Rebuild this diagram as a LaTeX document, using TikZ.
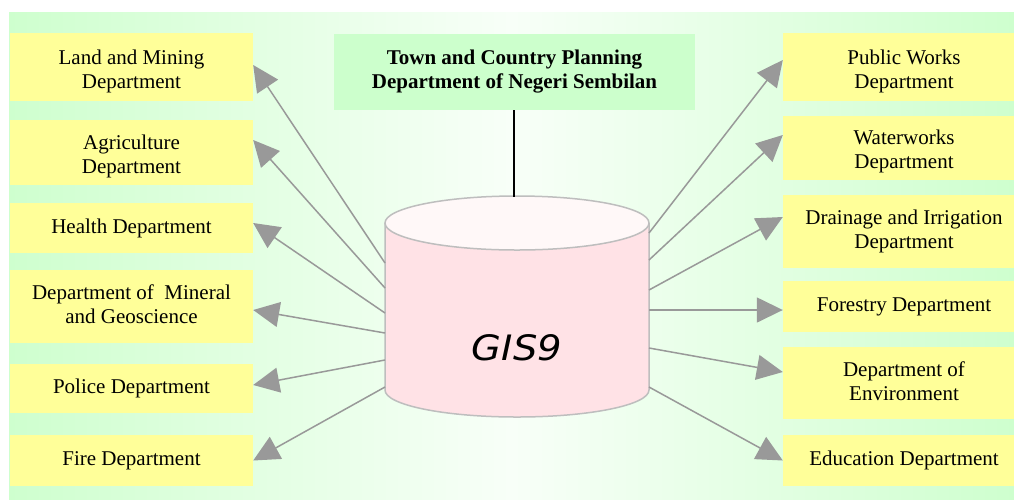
\documentclass[tikz,border=0pt]{standalone}
\usepackage{fontspec}
\setmainfont{Liberation Serif}
\newfontfamily\gisfont[FakeStretch=1.1]{DejaVu Sans}
\usetikzlibrary{arrows.meta}
\definecolor{boxyellow}{RGB}{255,255,153}
\definecolor{boxgreen}{RGB}{204,255,204}
\definecolor{edgegreen}{RGB}{206,255,206}
\definecolor{midgreen}{RGB}{248,255,248}
\definecolor{arrgray}{RGB}{153,153,153}
\definecolor{cylbody}{RGB}{255,226,230}
\definecolor{cyltop}{RGB}{255,248,248}
\definecolor{cylline}{RGB}{190,190,190}
\begin{document}
\begin{tikzpicture}[x=1pt,y=-1pt,
  txt/.style={inner sep=0pt, align=center, font=\fontsize{21}{24}\selectfont},
  dept/.style={fill=boxyellow, inner sep=0pt, align=center,
    font=\fontsize{21}{24}\selectfont},
  leftbox/.style={dept, minimum width=243pt},
  rightbox/.style={dept, minimum width=242pt},
  toptext/.style 2 args={label={[txt, anchor=north, yshift=-#1pt]north:{#2}}},
  arr/.style={draw=arrgray, line width=1.5pt,
    -{Triangle[length=26pt,width=25pt,fill=arrgray]}},
]
\useasboundingbox (0,0) rectangle (1014,499);
\shade[left color=edgegreen, right color=edgegreen, middle color=midgreen]
  (9,12) rectangle (1014,499);

% left boxes
\node[leftbox, minimum height=68pt, toptext={17}{Land and Mining\\Department}] (land) at (131.5,67) {};
\node[leftbox, minimum height=65pt, toptext={15}{Agriculture\\Department}] (agri) at (131.5,152.5) {};
\node[leftbox, minimum height=50pt] (health)  at (131.5,228)   {Health Department};
\node[leftbox, minimum height=73pt, toptext={15}{Department of~ Mineral\\and Geoscience}] (mineral) at (131.5,306.5) {};
\node[leftbox, minimum height=49pt] (police)  at (131.5,388.5) {Police Department};
\node[leftbox, minimum height=51pt] (fire)    at (131.5,460.5) {Fire Department};

% right boxes
\node[rightbox, minimum height=68pt, toptext={17}{Public Works\\Department}] (pw) at (904,67) {};
\node[rightbox, minimum height=64pt, toptext={14}{Waterworks\\Department}] (water) at (904,148) {};
\node[rightbox, minimum height=73pt, toptext={15}{Drainage and Irrigation\\Department}] (drain) at (904,231.5) {};
\node[rightbox, minimum height=51pt] (forest) at (904,306.5) {Forestry Department};
\node[rightbox, minimum height=72pt, toptext={15}{Department of\\Environment}] (env) at (904,383) {};
\node[rightbox, minimum height=51pt] (edu)    at (904,460.5) {Education Department};

% top box
\node[fill=boxgreen, minimum width=361pt, minimum height=76pt, inner sep=0pt,
  align=center, font=\fontsize{21}{24}\selectfont\bfseries] (tcp) at (514.5,72)
  {Town and Country Planning\\Department of Negeri Sembilan};

% cylinder
\draw[cylline, line width=1.5pt, fill=cylbody]
  (385,223) -- (385,390) arc[start angle=180, end angle=0, x radius=132, y radius=27]
  -- (649,223);
\draw[cylline, line width=1.5pt, fill=cyltop] (517,223) ellipse[x radius=132, y radius=27];
\coordinate (cyltop) at (514,196.5);
\node[font=\gisfont\itshape\fontsize{35}{40}\selectfont] (gis) at (517,348) {GIS9};

\draw[black, line width=2pt] (tcp.south -| cyltop) -- (cyltop);

% arrow start points on the cylinder
\coordinate (l1) at (385,263);
\coordinate (l2) at (385,288);
\coordinate (l3) at (385,313);
\coordinate (l4) at (385,333);
\coordinate (l5) at (385,360);
\coordinate (l6) at (385,387);
\coordinate (r1) at (649,233);
\coordinate (r2) at (649,260);
\coordinate (r3) at (649,290);
\coordinate (r4) at (649,310);
\coordinate (r5) at (649,348);
\coordinate (r6) at (649,387);

\draw[arr] (l1) -- ([yshift=2pt]land.east);
\draw[arr] (l2) -- ([yshift=12.5pt]agri.east);
\draw[arr] (l3) -- ([yshift=5pt]health.east);
\draw[arr] (l4) -- ([yshift=-3.5pt]mineral.east);
\draw[arr] (l5) -- ([yshift=3.5pt]police.east);
\draw[arr] (l6) -- (fire.east);

\draw[arr] (r1) -- ([yshift=7pt]pw.west);
\draw[arr] (r2) -- ([yshift=13pt]water.west);
\draw[arr] (r3) -- ([yshift=14.5pt]drain.west);
\draw[arr] (r4) -- ([yshift=-3.5pt]forest.west);
\draw[arr] (r5) -- ([yshift=11pt]env.west);
\draw[arr] (r6) -- (edu.west);
\end{tikzpicture}
\end{document}
